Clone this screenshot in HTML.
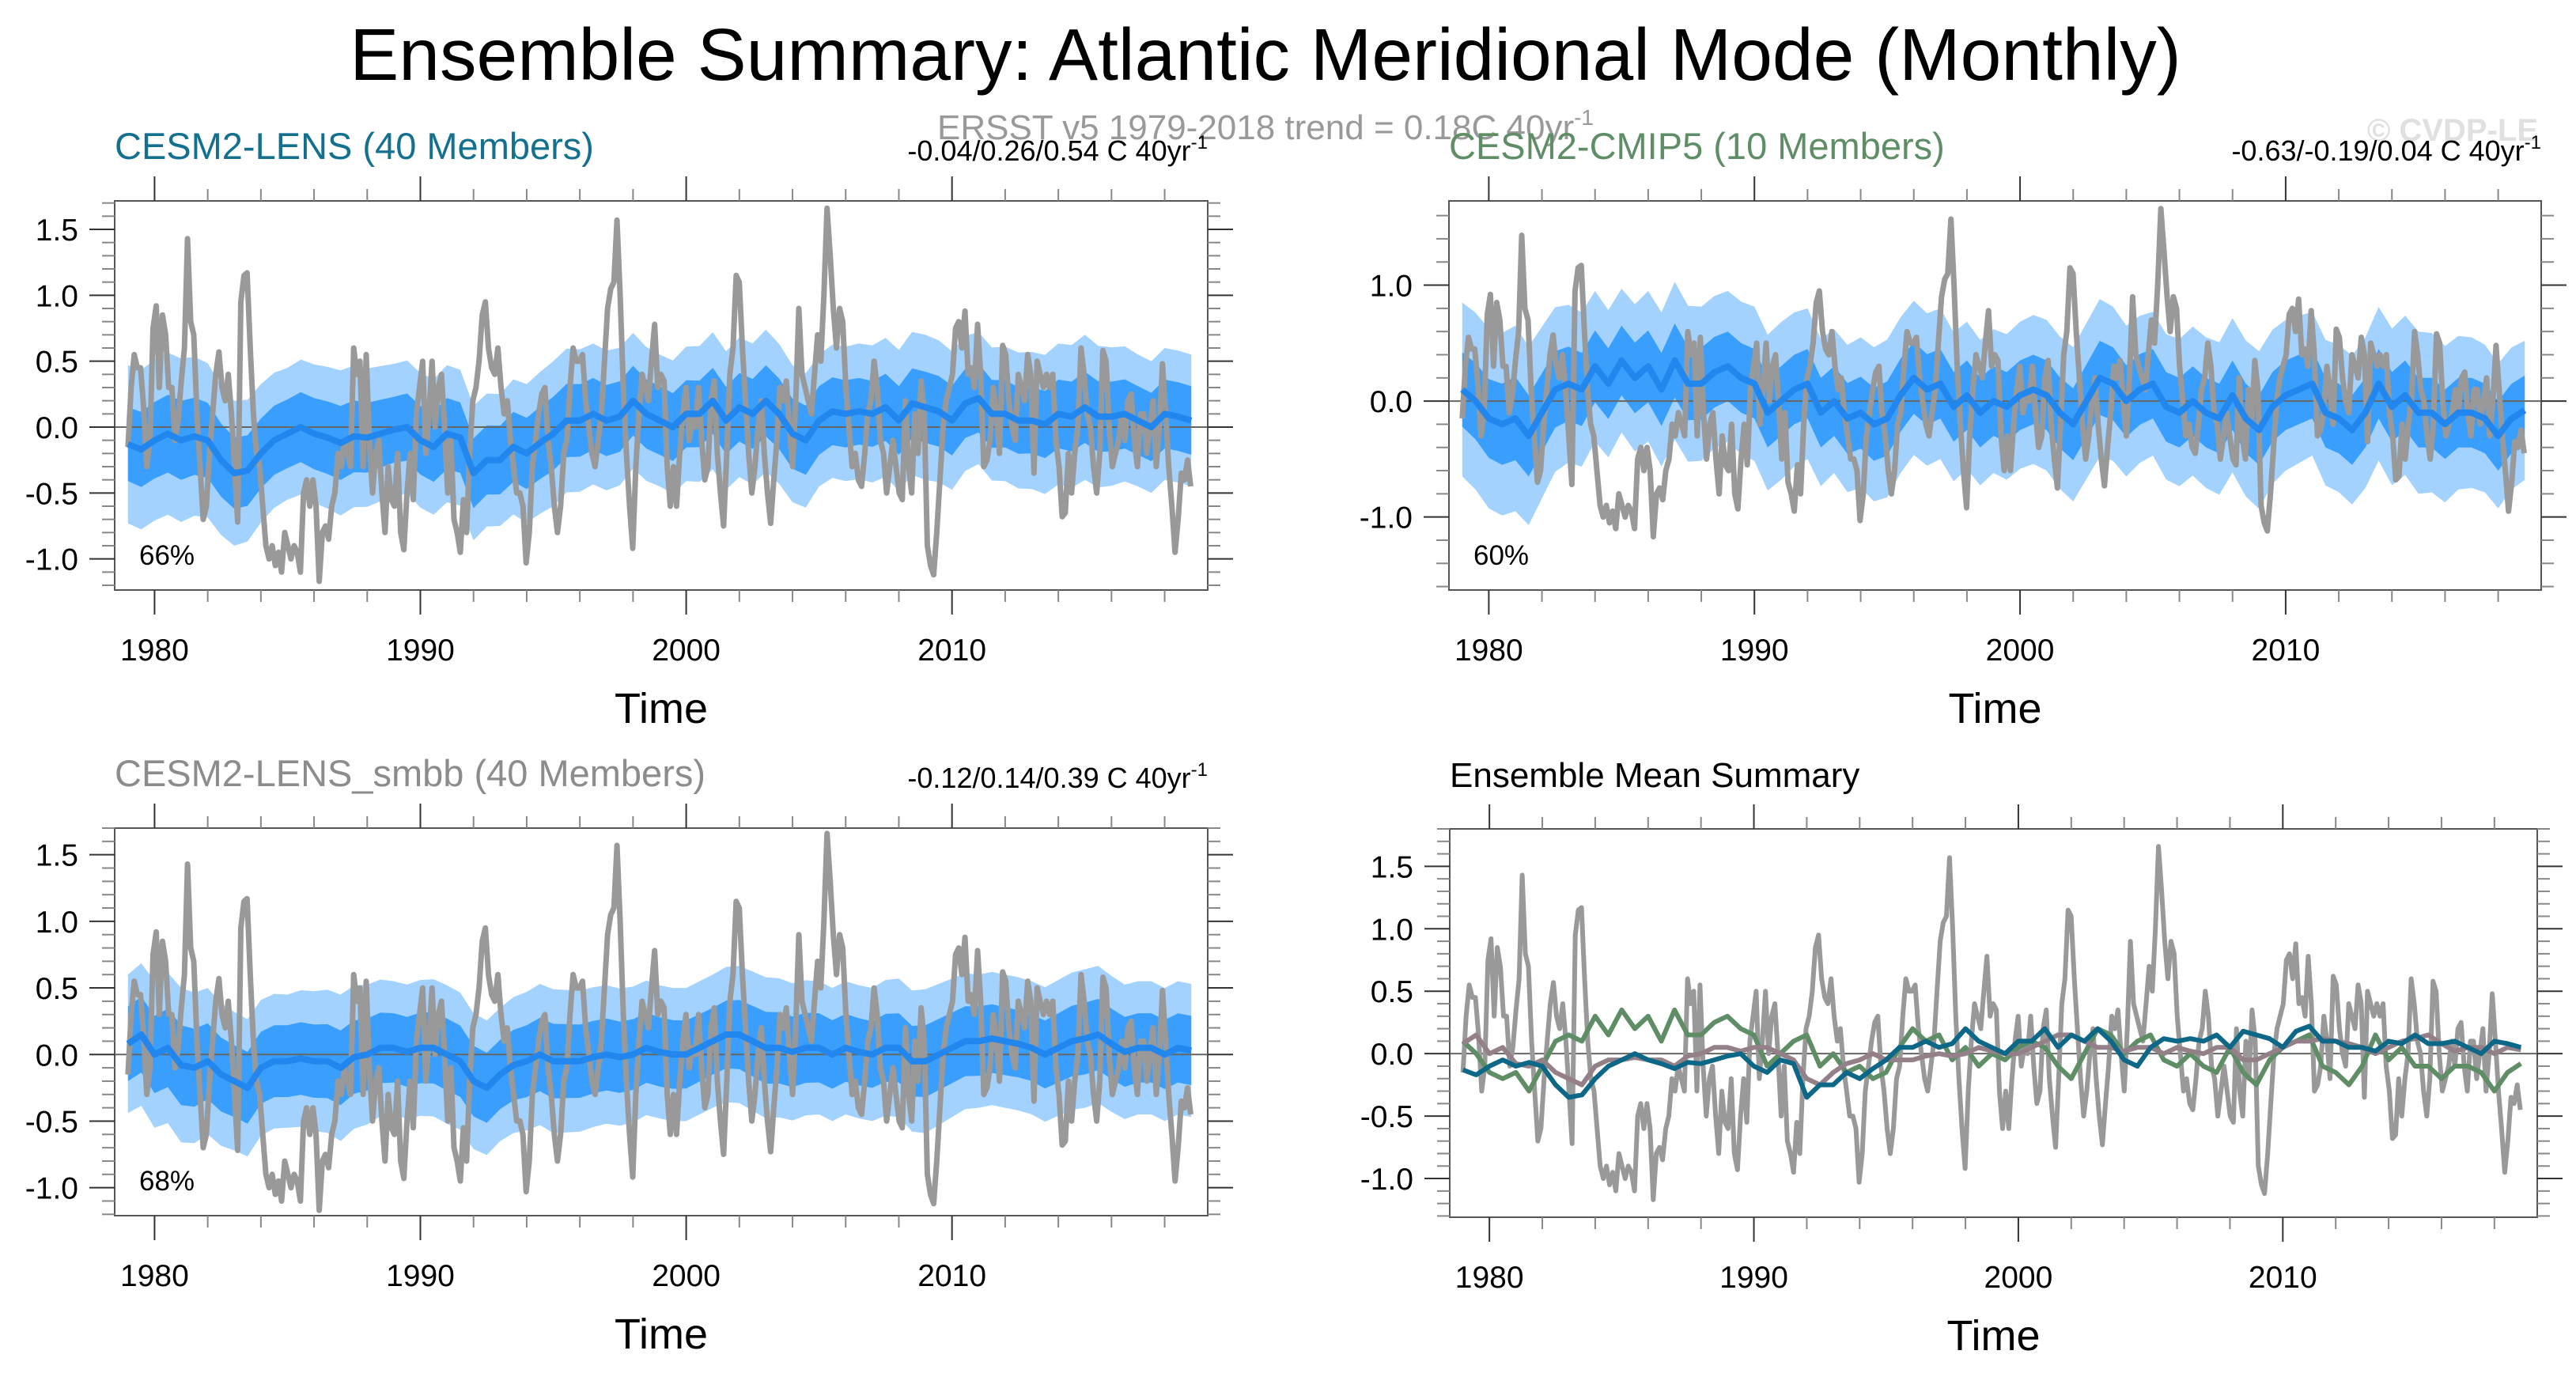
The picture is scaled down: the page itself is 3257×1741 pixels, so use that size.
<!DOCTYPE html>
<html><head><meta charset="utf-8">
<style>
html,body{margin:0;padding:0;background:#fff;}
svg{display:block;font-family:"Liberation Sans",sans-serif;}
</style></head>
<body>
<svg id="chart" width="3257" height="1741" viewBox="0 0 3257 1741" xmlns="http://www.w3.org/2000/svg">
<text x="1600" y="101" font-size="93" text-anchor="middle" fill="#000">Ensemble Summary: Atlantic Meridional Mode (Monthly)</text>
<text x="1600" y="176" font-size="44" text-anchor="middle" fill="#999">ERSST v5 1979-2018 trend = 0.18C 40yr<tspan dy="-18" font-size="28">-1</tspan></text>
<text x="3209" y="178" font-size="40" font-weight="bold" text-anchor="end" fill="#e0e0e0">© CVDP-LE</text>
</svg>
<script>
// ---- data ----
const obsValues = [-0.15,0.3,0.55,0.45,0.45,0.15,-0.3,-0.1,0.75,0.92,0.3,0.85,0.7,0.3,0.3,-0.1,0.05,0.35,0.6,1.43,0.8,0.7,0.1,-0.3,-0.7,-0.6,-0.2,0.1,0.4,0.57,0.3,0.2,0.4,0.1,-0.3,-0.72,0.95,1.15,1.17,0.6,0.1,-0.2,-0.3,-0.6,-0.9,-1.0,-0.9,-1.05,-0.95,-1.1,-0.8,-0.9,-1.0,-0.9,-0.95,-1.1,-0.5,-0.4,-0.6,-0.4,-0.6,-1.17,-0.8,-0.75,-0.85,-0.6,-0.5,-0.2,-0.3,-0.1,-0.2,-0.3,0.6,0.4,0.5,-0.3,0.55,-0.1,-0.5,-0.2,-0.1,-0.5,-0.8,-0.3,-0.55,-0.6,-0.2,-0.8,-0.93,-0.5,-0.2,-0.55,0.1,0.3,0.5,-0.2,0.1,0.5,0.0,0.3,0.4,0.0,-0.5,-0.1,-0.7,-0.8,-0.95,-0.55,-0.8,-0.2,0.2,0.3,0.5,0.85,0.95,0.6,0.45,0.4,0.6,0.3,0.1,0.2,-0.1,-0.3,-0.5,-0.5,-0.6,-1.03,-0.8,-0.3,-0.1,0.1,0.25,0.3,-0.1,-0.3,-0.6,-0.8,-0.6,-0.2,-0.1,0.3,0.6,0.5,0.5,0.55,0.2,0.0,-0.2,-0.3,-0.1,0.1,0.5,0.9,1.05,1.1,1.57,1.0,0.3,-0.2,-0.6,-0.92,-0.3,0.1,0.4,0.3,0.2,0.5,0.78,0.3,0.4,0.35,-0.3,-0.6,-0.3,-0.6,-0.2,0.1,0.3,-0.1,0.05,0.0,0.3,-0.1,-0.4,-0.3,0.2,0.35,-0.2,-0.5,-0.75,-0.2,0.4,0.6,1.15,1.1,0.6,0.2,-0.2,-0.5,-0.3,0.0,0.2,-0.2,-0.5,-0.73,-0.4,-0.1,0.3,0.2,0.35,0.0,-0.3,0.2,0.9,0.4,0.3,0.2,0.1,0.4,0.7,0.5,1.0,1.66,1.3,0.9,0.6,0.9,0.8,0.3,0.0,-0.3,-0.2,-0.4,-0.45,-0.2,0.1,0.2,0.5,0.3,-0.1,-0.2,-0.5,-0.3,-0.1,-0.3,-0.5,-0.55,0.2,-0.3,-0.5,0.1,-0.2,0.35,0.1,-0.9,-1.05,-1.12,-0.8,-0.4,0.0,0.2,0.3,0.4,0.75,0.8,0.6,0.88,0.4,0.45,0.3,0.78,0.4,-0.3,-0.25,-0.1,0.3,0.1,-0.2,0.62,0.55,0.2,0.0,-0.1,0.4,0.3,0.2,0.55,0.4,-0.35,0.5,0.4,0.3,0.4,0.3,0.4,-0.1,-0.3,-0.68,-0.65,-0.2,-0.5,-0.2,0.0,0.6,0.4,0.1,0.0,-0.3,-0.5,-0.2,0.58,0.5,0.0,-0.3,-0.2,-0.1,0.1,-0.1,0.2,0.25,-0.1,-0.3,0.1,0.1,-0.2,0.0,0.2,-0.3,0.0,0.48,0.1,-0.3,-0.6,-0.95,-0.7,-0.35,-0.4,-0.25,-0.45];
const lensMean = [-0.13,-0.17,-0.1,-0.05,-0.1,-0.07,-0.1,-0.25,-0.35,-0.33,-0.2,-0.1,-0.05,0.0,-0.05,-0.08,-0.12,-0.07,-0.08,-0.05,-0.02,0.0,-0.1,-0.15,-0.05,-0.08,-0.35,-0.25,-0.25,-0.15,-0.2,-0.12,-0.05,0.05,0.05,0.1,0.05,0.08,0.2,0.1,0.05,0.0,0.1,0.1,0.2,0.05,0.15,0.1,0.2,0.1,-0.05,-0.1,0.05,0.12,0.1,0.12,0.1,0.15,0.05,0.18,0.15,0.12,0.05,0.18,0.22,0.1,0.1,0.05,0.05,0.02,0.1,0.08,0.15,0.08,0.08,0.1,0.05,0.0,0.1,0.08,0.05];
const cmip5Mean = [0.1,0.0,-0.15,-0.2,-0.15,-0.3,-0.1,0.1,0.15,0.1,0.3,0.15,0.35,0.2,0.3,0.1,0.35,0.15,0.15,0.25,0.3,0.2,0.15,-0.1,0.0,0.1,0.15,-0.1,0.0,-0.15,-0.1,-0.2,-0.15,0.05,0.2,0.1,0.15,-0.05,0.05,-0.1,0.0,-0.05,0.05,0.1,0.05,-0.1,-0.2,0.0,0.2,0.15,0.0,0.1,0.15,-0.05,-0.1,0.0,-0.1,-0.15,0.05,-0.15,-0.25,-0.05,0.05,0.1,0.15,-0.1,-0.15,-0.25,-0.1,0.15,-0.05,0.05,-0.1,-0.1,-0.2,-0.1,-0.1,-0.15,-0.3,-0.15,-0.08];
const smbbMean = [0.08,0.15,0.0,0.05,-0.08,-0.1,-0.05,-0.15,-0.2,-0.25,-0.1,-0.05,-0.05,-0.03,-0.05,-0.05,-0.1,-0.02,0.0,0.05,0.05,0.02,0.05,0.05,0.0,-0.05,-0.2,-0.25,-0.15,-0.08,-0.05,0.0,-0.05,-0.05,-0.05,-0.02,0.0,-0.02,0.0,0.05,0.02,0.0,0.0,0.05,0.1,0.15,0.15,0.1,0.05,0.05,0.02,0.05,0.05,0.0,0.05,0.02,0.0,0.05,0.05,-0.05,-0.05,0.0,0.05,0.1,0.1,0.12,0.1,0.08,0.05,0.0,0.05,0.1,0.12,0.15,0.08,0.02,0.05,0.05,0.0,0.05,0.03];
// band half-widths (every 2 years, 1979-2019)
const lensInner = [0.28,0.3,0.27,0.26,0.28,0.25,0.27,0.26,0.28,0.27,0.26,0.25,0.27,0.26,0.25,0.27,0.26,0.25,0.27,0.26,0.26];
const lensOuter = [0.6,0.62,0.55,0.5,0.55,0.5,0.52,0.5,0.55,0.53,0.5,0.52,0.54,0.5,0.52,0.55,0.5,0.52,0.55,0.5,0.5];
const cmipInner = [0.32,0.36,0.32,0.3,0.32,0.3,0.3,0.3,0.32,0.3,0.3,0.3,0.32,0.3,0.3,0.3,0.3,0.3,0.3,0.3,0.3];
const cmipOuter = [0.75,0.8,0.68,0.62,0.68,0.65,0.68,0.62,0.68,0.65,0.62,0.65,0.68,0.62,0.65,0.68,0.62,0.65,0.7,0.65,0.6];
const smbbInner = [0.28,0.3,0.27,0.27,0.28,0.26,0.27,0.26,0.28,0.27,0.26,0.25,0.27,0.26,0.25,0.27,0.26,0.25,0.27,0.26,0.26];
const smbbOuter = [0.52,0.58,0.52,0.5,0.55,0.5,0.52,0.5,0.54,0.52,0.5,0.5,0.53,0.5,0.5,0.54,0.5,0.5,0.52,0.5,0.5];
const xTickLabels = ["1980","1990","2000","2010"];
const yTicksA = ["1.5","1.0","0.5","0.0","-0.5","-1.0"];
const yTicksB = ["1.0","0.0","-1.0"];
const panelTitles = ["CESM2-LENS (40 Members)","CESM2-CMIP5 (10 Members)","CESM2-LENS_smbb (40 Members)","Ensemble Mean Summary"];
const trendTexts = ["-0.04/0.26/0.54 C 40yr","-0.63/-0.19/0.04 C 40yr","-0.12/0.14/0.39 C 40yr",""];
const pctTexts = ["66%","60%","68%",""];

const NS="http://www.w3.org/2000/svg";
const svg=document.getElementById('chart');
function mk(tag,attrs,parent){const e=document.createElementNS(NS,tag);for(const k in attrs)e.setAttribute(k,attrs[k]);(parent||svg).appendChild(e);return e;}
const T0=1978.5,T1=2019.62;
const panels=[
 {x0:145,x1:1527,y0:254,y1:746,ymax:1.716,ymin:-1.236,ticks:yTicksA,major:0.5,minor:0.1,mean:lensMean,inner:lensInner,outer:lensOuter,tcol:"#14708f"},
 {x0:1832,x1:3213,y0:254,y1:746,ymax:1.727,ymin:-1.63,ticks:yTicksB,major:1.0,minor:0.2,mean:cmip5Mean,inner:cmipInner,outer:cmipOuter,tcol:"#5f8d66"},
 {x0:145,x1:1527,y0:1047,y1:1537,ymax:1.70,ymin:-1.21,ticks:yTicksA,major:0.5,minor:0.1,mean:smbbMean,inner:smbbInner,outer:smbbOuter,tcol:"#8c8c8c"},
 {x0:1833,x1:3208,y0:1048,y1:1539,ymax:1.80,ymin:-1.31,ticks:yTicksA,major:0.5,minor:0.1,tcol:"#000"}
];
function tAt(arr,i,a,b){return a+(b-a)*i/(arr.length-1);}
function interp(arr,t){const p=(t-1979)/2;const i=Math.max(0,Math.min(arr.length-2,Math.floor(p)));const f=Math.max(0,Math.min(1,p-i));return arr[i]*(1-f)+arr[i+1]*f;}
function linePath(arr,sx,sy,a,b){return arr.map((v,i)=>(i?'L':'M')+sx(tAt(arr,i,a,b)).toFixed(1)+','+sy(v).toFixed(1)).join('');}

panels.forEach((P,pi)=>{
  const g=mk('g',{});  
  const sx=t=>P.x0+(t-T0)/(T1-T0)*(P.x1-P.x0);
  const sy=v=>P.y0+(P.ymax-v)/(P.ymax-P.ymin)*(P.y1-P.y0);
  const clipId='clip'+pi;
  const cp=mk('clipPath',{id:clipId},g); mk('rect',{x:P.x0,y:P.y0,width:P.x1-P.x0,height:P.y1-P.y0},cp);
  const plot=mk('g',{'clip-path':'url(#'+clipId+')'},g);
  if(P.mean){
    const a=1979.0,b=2019.0;
    const band=(w,col,name)=>{
      const up=P.mean.map((v,i)=>{const t=tAt(P.mean,i,a,b);return sx(t).toFixed(1)+','+sy(v+interp(w,t)).toFixed(1);});
      const dn=P.mean.map((v,i)=>{const t=tAt(P.mean,i,a,b);return sx(t).toFixed(1)+','+sy(v-interp(w,t)).toFixed(1);}).reverse();
      const e=mk('polygon',{points:up.concat(dn).join(' '),fill:col},plot);
      
      
    };
    band(P.outer,'#a3d2ff','outer-spread-band');
    band(P.inner,'#3a9ffc','inner-spread-band');
  }
  const z=mk('line',{x1:P.x0,x2:P.x1,y1:sy(0),y2:sy(0),stroke:'#666','stroke-width':2},plot);
   
  const obs=mk('path',{d:linePath(obsValues,sx,sy,1979.0,2018.98),fill:'none',stroke:'#999','stroke-width':pi==3?6:7,'stroke-linejoin':'round'},plot);
   
  if(P.mean){
    const m=mk('path',{d:linePath(P.mean,sx,sy,1979.0,2019.0),fill:'none',stroke:'#2186ee','stroke-width':8,'stroke-linejoin':'round'},plot);
     
  } else {
    [[cmip5Mean,'#5f8d66','cmip5-mean-line'],[smbbMean,'#948088','smbb-mean-line'],[lensMean,'#0d6787','lens-mean-line']].forEach(([arr,col,nm])=>{
      const m=mk('path',{d:linePath(arr,sx,sy,1979.0,2019.0),fill:'none',stroke:col,'stroke-width':6,'stroke-linejoin':'round'},plot);
       
    });
  }
  const fr=mk('rect',{x:P.x0,y:P.y0,width:P.x1-P.x0,height:P.y1-P.y0,fill:'none',stroke:'#555','stroke-width':2},g);
   
  for(let yr=1980;yr<=2018;yr+=2){
    const X=sx(yr),maj=yr%10==0,L=maj?31:15;
    mk('line',{x1:X,x2:X,y1:P.y0,y2:P.y0-L,stroke:maj?'#333':'#888','stroke-width':2},g);
    mk('line',{x1:X,x2:X,y1:P.y1,y2:P.y1+L,stroke:maj?'#333':'#888','stroke-width':2},g);
  }
  xTickLabels.forEach(s=>{
    const e=mk('text',{x:sx(+s),y:P.y1+89,'font-size':39,'text-anchor':'middle'},g); e.textContent=s;
     
  });
  for(let k=Math.ceil(P.ymin/P.minor);k<=Math.floor(P.ymax/P.minor);k++){
    const v=k*P.minor,Y=sy(v),maj=Math.abs(v/P.major-Math.round(v/P.major))<1e-6,L=maj?32:16;
    mk('line',{x1:P.x0,x2:P.x0-L,y1:Y,y2:Y,stroke:maj?'#333':'#888','stroke-width':2},g);
    mk('line',{x1:P.x1,x2:P.x1+L,y1:Y,y2:Y,stroke:maj?'#333':'#888','stroke-width':2},g);
  }
  P.ticks.forEach(s=>{
    const e=mk('text',{x:P.x0-46,y:sy(+s)+14,'font-size':39,'text-anchor':'end'},g); e.textContent=s;
     
  });
  const xt=mk('text',{x:(P.x0+P.x1)/2,y:P.y1+168,'font-size':54,'text-anchor':'middle'},g); xt.textContent='Time';
   
  const tt=mk('text',{x:P.x0,y:P.y0-53,'font-size':pi==3?44:47,fill:P.tcol},g); tt.textContent=panelTitles[pi];
   
  if(trendTexts[pi]){
    const tr=mk('text',{x:P.x1,y:P.y0-51,'font-size':36,'text-anchor':'end'},g);
    tr.textContent=trendTexts[pi];
    mk('tspan',{dy:-15,'font-size':24},tr).textContent='-1';
     
  }
  if(pctTexts[pi]){
    const pc=mk('text',{x:P.x0+31,y:P.y1-32,'font-size':35},g); pc.textContent=pctTexts[pi];
     
  }
});
</script>
</body></html>
